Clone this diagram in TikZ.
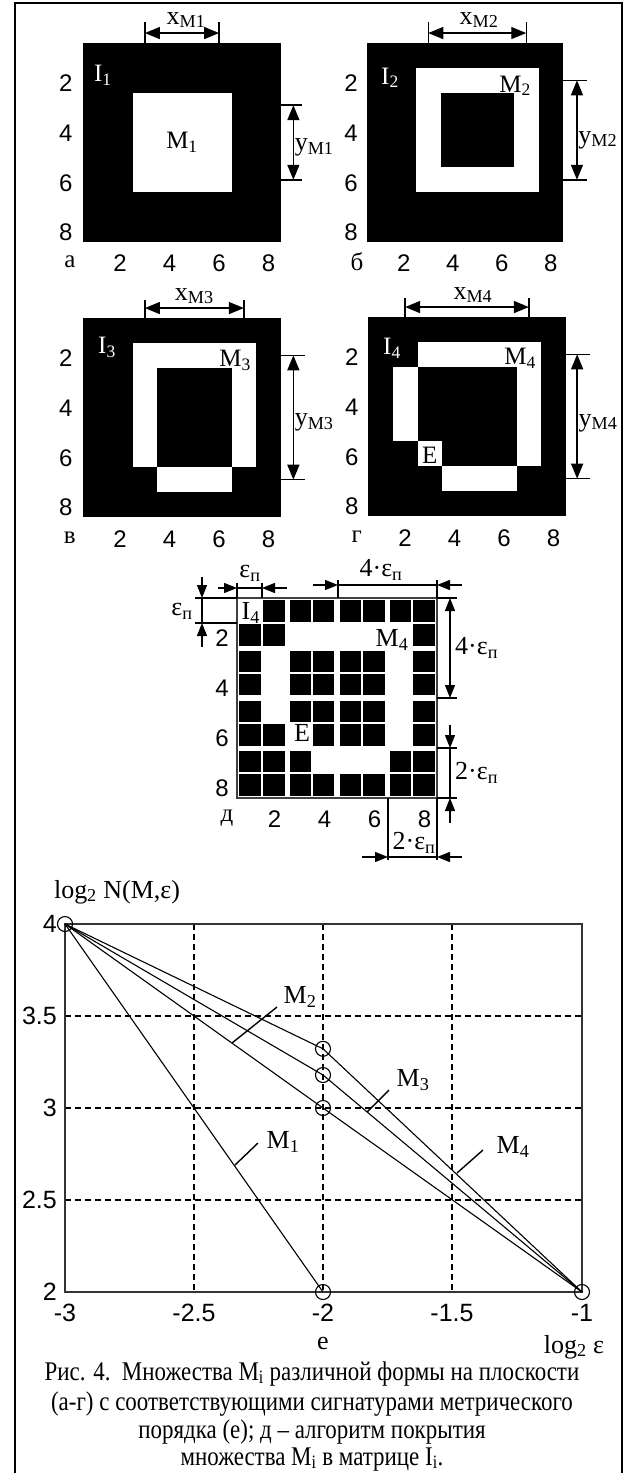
\documentclass[tikz,border=0pt]{standalone}
\usepackage{fontspec}
\setmainfont{Liberation Serif}
\newfontfamily\dfont{Liberation Sans}
\newfontfamily\capf[FakeStretch=0.85]{Liberation Serif}
\usetikzlibrary{arrows.meta}
\newcommand\fs[1]{\fontsize{#1}{#1}\selectfont}
\newcommand\sbx[1]{\textsubscript{#1}}
\begin{document}
\begin{tikzpicture}[x=1pt,y=-1pt,
 lbl/.style={font=\fs{25}, inner sep=0pt},
 lblW/.style={font=\fs{25}, inner sep=0pt, text=white},
 lblB/.style={font=\fs{26}, inner sep=0pt},
 captxt/.style={font=\capf\fs{27}, inner sep=0pt, anchor=base},
 num/.style={font=\dfont\fs{24}, inner sep=0pt},
 gnum/.style={font=\dfont\fs{25}, inner sep=0pt},
 tk/.style={line width=1.4pt},
 dimA/.style={line width=1.4pt,{Triangle[length=15pt,width=12pt]}-{Triangle[length=15pt,width=12pt]}},
 arrD/.style={line width=1.2pt,-{Triangle[length=13pt,width=10pt]}},
 dimD/.style={line width=1.2pt,{Triangle[length=13pt,width=10pt]}-{Triangle[length=13pt,width=10pt]}},
 grd/.style={line width=1.3pt,dash pattern=on 6pt off 4pt},
 dl/.style={line width=1.1pt},
 mk/.style={circle,draw,line width=1.1pt,minimum size=15pt,inner sep=0pt},
]
\useasboundingbox (0,0) rectangle (624,1473);
\fill[white] (0,0) rectangle (624,1473);
\draw[line width=2pt] (15,1473) -- (15,3) -- (622,3) -- (622,1473);

% ---------- panel a
\begin{scope}[xshift=83pt,yshift=-43pt,x=24.75pt,y=-24.875pt]
 \fill (0,0) rectangle (8,8);
 \fill[white] (2,2) rectangle (6,6);
 \node[lblW] (aI) at (0.8,1.3) {I\sbx{1}};
 \node[lbl] (aM) at (4,4) {M\sbx{1}};
 \foreach \n in {2,4,6,8} {
   \node[num] (ar\n) at (-0.69,\n-0.38) {\n};
   \node[num] (ac\n) at (\n-0.5,8.85) {\n};
 }
 \node[lbl] (aL) at (-0.53,8.8) {а};
 \draw[tk] (2.5,-0.84) -- (2.5,0) (5.5,-0.84) -- (5.5,0);
 \draw[tk] (8,2.5) -- (8.85,2.5) (8,5.5) -- (8.85,5.5);
 \draw[dimA] (2.5,-0.4) -- (5.5,-0.4);
 \draw[dimA] (8.5,2.5) -- (8.5,5.5);
 \node[lblB] (axl) at (4.16,-0.92) {x\sbx{M1}};
 \node[lblB,anchor=west] (ayl) at (8.55,4.2) {y\sbx{M1}};
\end{scope}

% ---------- panel b
\begin{scope}[xshift=367pt,yshift=-43pt,x=24.5pt,y=-24.875pt]
 \fill (0,0) rectangle (8,8);
 \fill[white] (2,1) rectangle (7,6);
 \fill (3,2) rectangle (6,5);
 \node[lblW] (bI) at (0.94,1.4) {I\sbx{2}};
 \node[lbl] (bM) at (6.05,1.72) {M\sbx{2}};
 \foreach \n in {2,4,6,8} {
   \node[num] (br\n) at (-0.65,\n-0.38) {\n};
   \node[num] (bc\n) at (\n-0.5,8.85) {\n};
 }
 \node[lbl] (bL) at (-0.41,8.8) {б};
 \draw[tk] (2.5,-0.84) -- (2.5,0) (6.5,-0.84) -- (6.5,0);
 \draw[tk] (8,1.5) -- (8.98,1.5) (8,5.5) -- (8.98,5.5);
 \draw[dimA] (2.5,-0.4) -- (6.5,-0.4);
 \draw[dimA] (8.57,1.5) -- (8.57,5.5);
 \node[lblB] (bxl) at (4.57,-0.92) {x\sbx{M2}};
 \node[lblB,anchor=west] (byl) at (8.62,3.9) {y\sbx{M2}};
\end{scope}

% ---------- panel v
\begin{scope}[xshift=83pt,yshift=-318pt,x=24.75pt,y=-24.875pt]
 \fill (0,0) rectangle (8,8);
 \fill[white] (2,1) rectangle (7,6);
 \fill (3,2) rectangle (6,6);
 \fill[white] (3,6) rectangle (6,7);
 \node[lblW] (vI) at (0.97,1.17) {I\sbx{3}};
 \node[lbl] (vM) at (6.15,1.7) {M\sbx{3}};
 \foreach \n in {2,4,6,8} {
   \node[num] (vr\n) at (-0.69,\n-0.38) {\n};
   \node[num] (vc\n) at (\n-0.5,8.88) {\n};
 }
 \node[lbl] (vL) at (-0.53,8.83) {в};
 \draw[tk] (2.5,-0.72) -- (2.5,0) (6.5,-0.72) -- (6.5,0);
 \draw[tk] (8,1.5) -- (8.97,1.5) (8,6.5) -- (8.97,6.5);
 \draw[dimA] (2.5,-0.4) -- (6.5,-0.4);
 \draw[dimA] (8.5,1.5) -- (8.5,6.5);
 \node[lblB] (vxl) at (4.5,-0.88) {x\sbx{M3}};
 \node[lblB,anchor=west] (vyl) at (8.55,4.2) {y\sbx{M3}};
\end{scope}

% ---------- panel g
\begin{scope}[xshift=368pt,yshift=-317pt,x=24.75pt,y=-24.875pt]
 \fill (0,0) rectangle (8,8);
 \fill[white] (2,1) rectangle (7,2);
 \fill[white] (1,2) rectangle (2,5);
 \fill[white] (6,2) rectangle (7,6);
 \fill[white] (2,5) rectangle (3,6);
 \fill[white] (3,6) rectangle (6,7);
 \node[lblW] (gI) at (0.97,1.25) {I\sbx{4}};
 \node[lbl] (gM) at (6.15,1.65) {M\sbx{4}};
 \node[lbl] (gE) at (2.5,5.55) {E};
 \foreach \n in {2,4,6,8} {
   \node[num] (gr\n) at (-0.65,\n-0.38) {\n};
   \node[num] (gc\n) at (\n-0.5,8.88) {\n};
 }
 \node[lbl] (gL) at (-0.45,8.83) {г};
 \draw[tk] (1.5,-0.76) -- (1.5,0) (6.5,-0.76) -- (6.5,0);
 \draw[tk] (8,1.5) -- (8.97,1.5) (8,6.5) -- (8.97,6.5);
 \draw[dimA] (1.5,-0.4) -- (6.5,-0.4);
 \draw[dimA] (8.45,1.5) -- (8.45,6.5);
 \node[lblB] (gxl) at (4.24,-0.88) {x\sbx{M4}};
 \node[lblB,anchor=west] (gyl) at (8.5,4.26) {y\sbx{M4}};
\end{scope}

% ---------- panel d
\begin{scope}[xshift=237pt,yshift=-598pt,x=25pt,y=-25pt]
 \def\hl{{2,1.25,2.5,1.25,3.25,1.25,2.5,1.25,2}}
 \foreach \row [count=\ri from 0] in {{0,1,1,1,1,1,1,1},{1,1,0,0,0,0,0,1},{1,0,1,1,1,1,0,1},{1,0,1,1,1,1,0,1},{1,0,1,1,1,1,0,1},{1,1,0,1,1,1,0,1},{1,1,1,0,0,0,1,1},{1,1,1,1,1,1,1,1}} {
   \foreach \v [count=\ci from 0] in \row {
     \ifnum\v=1
       \pgfmathsetmacro\xa{(25*\ci+\hl[\ci])/25}
       \pgfmathsetmacro\xb{(25*(\ci+1)-\hl[\ci+1])/25}
       \pgfmathsetmacro\ya{(25*\ri+\hl[\ri])/25}
       \pgfmathsetmacro\yb{(25*(\ri+1)-\hl[\ri+1])/25}
       \fill (\xa,\ya) rectangle (\xb,\yb);
     \fi
   }
 }
 \draw[line width=1.3pt,black!75] (0,0) rectangle (8,8);
 \node[lblB] (dI) at (0.55,0.6) {I\sbx{4}};
 \node[lblB] (dM) at (6.2,1.68) {M\sbx{4}};
 \node[lblB] (dE) at (2.6,5.4) {E};
 \foreach \n in {2,4,6,8} {
   \node[num] (dr\n) at (-0.6,\n-0.4) {\n};
   \node[num] (dc\n) at (\n-0.5,8.85) {\n};
 }
 \node[lbl] (dL) at (-0.4,8.8) {д};
\end{scope}
% d dimensions
\draw[tk] (237,583) -- (237,598) (262,583) -- (262,598);
\draw[tk] (237,588) -- (262,588);
\draw[arrD] (218,588) -- (237,588);
\draw[arrD] (287,588) -- (262,588);
\node[lblB] (e1) at (250,573) {ε\sbx{п}};
\draw[tk] (195,598) -- (237,598) (195,623) -- (237,623);
\draw[tk] (202,598) -- (202,623);
\draw[arrD] (202,577) -- (202,598);
\draw[arrD] (202,647) -- (202,623);
\node[lblB] (e2) at (182,611) {ε\sbx{п}};
\draw[tk] (338,580) -- (338,598) (437,580) -- (437,598);
\draw[tk] (338,585) -- (437,585);
\draw[arrD] (313,585) -- (338,585);
\draw[arrD] (462,585) -- (437,585);
\node[lblB] (e3) at (381,570) {4·ε\sbx{п}};
\draw[tk] (437,598) -- (457,598) (437,698) -- (457,698);
\draw[dimD] (450,598) -- (450,698);
\node[lblB,anchor=west] (e4) at (455,648) {4·ε\sbx{п}};
\draw[tk] (437,748) -- (457,748) (437,798) -- (457,798);
\draw[arrD] (450,725) -- (450,748);
\draw[tk] (450,748) -- (450,798);
\draw[arrD] (450,823) -- (450,798);
\node[lblB,anchor=west] (e5) at (455,773) {2·ε\sbx{п}};
\draw[tk] (388,798) -- (388,860) (437,798) -- (437,860);
\draw[tk] (388,857) -- (437,857);
\draw[arrD] (362,857) -- (388,857);
\draw[arrD] (462,857) -- (437,857);
\node[lblB] (e6) at (414,843) {2·ε\sbx{п}};

% ---------- graph
\draw[grd] (194,924) -- (194,1292) (323,924) -- (323,1292) (452,924) -- (452,1292);
\draw[grd] (65,1016) -- (582,1016) (65,1108) -- (582,1108) (65,1200) -- (582,1200);
\draw[line width=2pt,black!80] (65,924) rectangle (582,1292);
\node[mk] (p0) at (65,924) {};
\node[mk] (p1) at (323,1292) {};
\node[mk] (p2) at (323,1108) {};
\node[mk] (p3) at (323,1075) {};
\node[mk] (p4) at (323,1048.8) {};
\node[mk] (pe) at (582,1292) {};
\draw[dl] (p0.center) -- (p1.center);
\draw[dl] (p0.center) -- (p2.center) -- (pe.center);
\draw[dl] (p0.center) -- (p3.center) -- (pe.center);
\draw[dl] (p0.center) -- (p4.center) -- (pe.center);
\node[lblB] (m1) at (283,1142) {M\sbx{1}};
\node[lblB] (m2) at (300,997) {M\sbx{2}};
\node[lblB] (m3) at (413,1080) {M\sbx{3}};
\node[lblB] (m4) at (513,1147) {M\sbx{4}};
\draw[tk] (235,1165) -- (258,1143);
\draw[tk] (232,1043) -- (277,1007);
\draw[tk] (367,1112) -- (389,1090);
\draw[tk] (457,1173) -- (483,1150);
\foreach \t/\y in {4/924,3.5/1016,3/1108,2.5/1200,2/1292}
  \node[gnum,anchor=east] (yt\y) at (57,\y) {\t};
\foreach \t/\x in {-3/65,-2.5/194,-2/323,-1.5/452,-1/582}
  \node[gnum] (xt\x) at (\x,1313) {\t};
\node[lblB] (ylab) at (117,892) {log\sbx{2} N(M,ε)};
\node[lblB] (xlab) at (574,1347) {log\sbx{2} ε};
\node[lblB] (elab) at (323,1343) {е};

% ---------- caption
\node[captxt] (c1) at (312,1380) {Рис. 4.\ \ Множества M\sbx{i} различной формы на плоскости};
\node[captxt] (c2) at (312,1410) {(а-г) с соответствующими сигнатурами метрического};
\node[captxt] (c3) at (312,1438) {порядка (е); д – алгоритм покрытия};
\node[captxt] (c4) at (312,1465) {множества M\sbx{i} в матрице I\sbx{i}.};
\end{tikzpicture}
\end{document}
